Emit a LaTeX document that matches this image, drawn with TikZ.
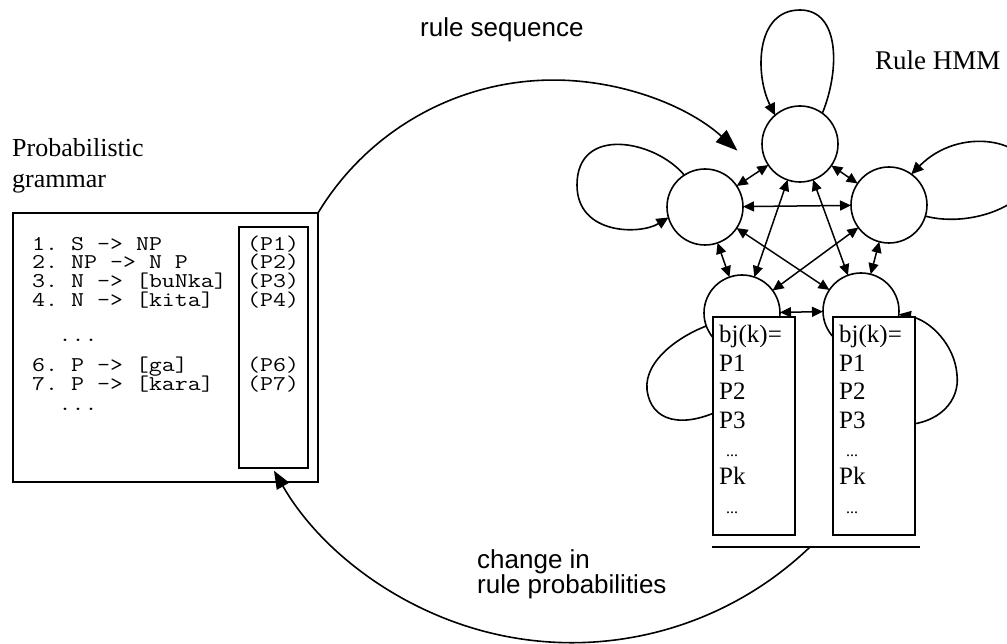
\documentclass[tikz,border=0pt]{standalone}
\usepackage{fontspec}
\setmainfont{Liberation Serif}
\setsansfont{Liberation Sans}
\setmonofont[FakeStretch=1.2]{Latin Modern Mono}
\usetikzlibrary{arrows.meta}
\newcommand\vlines[2]{\vtop{\baselineskip=#1\lineskiplimit=-100pt\lineskip=0pt\halign{##\hfil\cr#2\crcr}}}
\begin{document}
\frenchspacing
\begin{tikzpicture}[x=1pt,y=-1pt,
  st/.style={circle, draw, line width=1.6pt, minimum size=76pt, inner sep=0pt, outer sep=0pt},
  lnk/.style={line width=1.5pt, {Triangle[length=11pt,width=10pt]}-{Triangle[length=11pt,width=10pt]}},
  loopar/.style={line width=1.6pt, -{Triangle[length=12pt,width=11pt]}},
  plainline/.style={line width=1.6pt},
  bigarrow/.style={line width=1.6pt, -{Triangle[length=22pt,width=16pt]}},
  midarrow/.style={line width=1.6pt, -{Triangle[length=18pt,width=14pt]}},
  emitbox/.style={draw, fill=white, line width=1.6pt, minimum width=82pt, minimum height=218pt, inner sep=0pt, outer sep=0pt},
  mono/.style={font=\ttfamily\fontsize{21}{21}\selectfont, anchor=base west, inner sep=0pt},
  serif/.style={anchor=base west, inner sep=0pt},
  sans/.style={font=\sffamily\fontsize{26}{26}\selectfont, anchor=base west, inner sep=0pt},
  boxtxt/.style={font=\fontsize{25}{25}\selectfont, anchor=base west, inner sep=0pt}
]
\useasboundingbox (0,0) rectangle (1007,644);
\clip (0,0) rectangle (1007,644);
\fill[white] (0,0) rectangle (1007,644);

% grammar box
\node[draw, line width=2.4pt, minimum width=305pt, minimum height=269pt, inner sep=0pt, outer sep=0pt] (gram) at (165.5,347.5) {};
\node[draw, line width=2pt, minimum width=69pt, minimum height=241pt, inner sep=0pt, outer sep=0pt] (prob) at (273.5,347.5) {};

\node[serif, font=\fontsize{26}{26}\selectfont] (glabel) at (12,157) {\vlines{31pt}{Probabilistic\cr grammar}};

\node[mono] (g1) at (32,250.7) {1. S -> NP};
\node[mono] (g2) at (32,269) {2. NP -> N P};
\node[mono] (g3) at (32,288) {3. N -> [buNka]};
\node[mono] (g4) at (32,306.7) {4. N -> [kita]};
\node[mono] (g5) at (58.4,341.7) {...};
\node[mono] (g6) at (32,371.7) {6. P -> [ga]};
\node[mono] (g7) at (32,390) {7. P -> [kara]};
\node[mono] (g8) at (58.4,410) {...};
\node[mono] (p1) at (247,250.7) {(P1)};
\node[mono] (p2) at (247,269) {(P2)};
\node[mono] (p3) at (247,288) {(P3)};
\node[mono] (p4) at (247,306.7) {(P4)};
\node[mono] (p6) at (247,371.7) {(P6)};
\node[mono] (p7) at (247,390) {(P7)};

% HMM states
\node[st] (T) at (800,144) {};
\node[st] (L) at (705,207) {};
\node[st] (R) at (889,205) {};
\node[st] (BL) at (742,313) {};
\node[st] (BR) at (861,311) {};

% self loops
\draw[loopar] (T.54) .. controls (840,70) and (840,10) .. (800,10) .. controls (755,10) and (755,75) .. (T.131);
\draw[loopar] (L.123) .. controls (655,140) and (577,125) .. (577,185) .. controls (577,235) and (640,235) .. (L.196);
\draw[loopar] (R.-17) .. controls (970,228) and (1030,205) .. (1030,175) .. controls (1030,140) and (960,125) .. (R.54);
\coordinate (blh) at (730,405);
\draw[plainline] (BL.200) .. controls (675,338) and (640,365) .. (648,395) .. controls (655,425) and (690,428) .. (blh);
\coordinate (brh) at (900,425);
\draw[loopar] (brh) .. controls (940,425) and (960,400) .. (957,375) .. controls (955,345) and (930,320) .. (BR.-5);

% transitions
\draw[lnk] (T) -- (L);
\draw[lnk] (T) -- (R);
\draw[lnk] (L) -- (R);
\draw[lnk] (T) -- (BL);
\draw[lnk] (T) -- (BR);
\draw[lnk] (L) -- (BR);
\draw[lnk] (R) -- (BL);
\draw[lnk] (L) -- (BL);
\draw[lnk] (R) -- (BR);
\draw[lnk] (BL) -- (BR);

% emission boxes
\node[emitbox] (E1) at (754,426) {};
\node[emitbox] (E2) at (874,426) {};
\node[boxtxt] (e1) at (719,343) {\vlines{28.4pt}{bj(k)=\cr P1\cr P2\cr P3\cr\hspace{7pt}{\fontsize{16}{16}\selectfont...}\cr Pk\cr\hspace{7pt}{\fontsize{16}{16}\selectfont...}}};
\node[boxtxt] (e2) at (839,343) {\vlines{28.4pt}{bj(k)=\cr P1\cr P2\cr P3\cr\hspace{7pt}{\fontsize{16}{16}\selectfont...}\cr Pk\cr\hspace{7pt}{\fontsize{16}{16}\selectfont...}}};

\node[serif, font=\fontsize{27}{27}\selectfont] (hmm) at (875,70) {Rule HMM};

% base line and big arcs
\coordinate (b1) at (712,547);
\coordinate (b2) at (920,547);
\coordinate (arcstart) at (810,547);
\draw[line width=1.6pt] (b1) -- (b2);
\draw[bigarrow] (gram.north east) arc[start angle=148.9, end angle=48, radius=275pt];
\draw[midarrow] (arcstart) arc[start angle=-46.2, end angle=-150, radius=344pt];

\node[sans] (rs) at (420,37) {rule sequence};
\node[sans] (cp) at (477,568) {\vlines{25pt}{change in\cr rule probabilities}};
\end{tikzpicture}
\end{document}
